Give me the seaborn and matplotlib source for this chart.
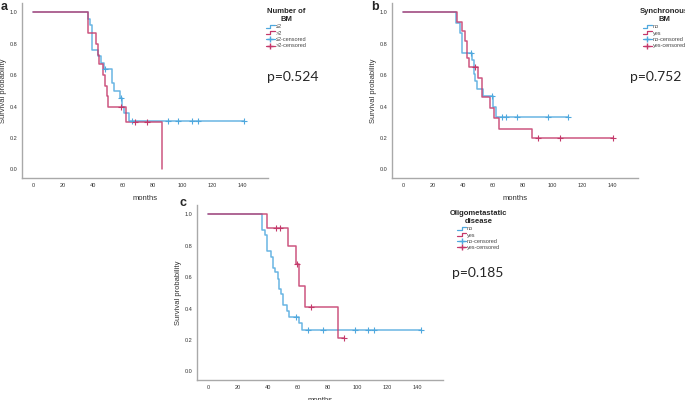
import numpy as np
import pandas as pd
import matplotlib
matplotlib.use("Agg")
import matplotlib.pyplot as plt
from matplotlib.lines import Line2D
from matplotlib.legend_handler import HandlerBase
import seaborn as sns

# ── data ─────────────────────────────────────────────────────────────────────

# panel a: number of BM
a_le2_t = [0, 36.5, 38, 39, 43, 45, 47, 52.5, 54, 58, 59.5, 61, 64]
a_le2_s = [1.0, 0.96, 0.92, 0.76, 0.72, 0.68, 0.64, 0.55, 0.50, 0.455, 0.40, 0.36, 0.305]
a_le2_cens = [48, 58.5, 66, 90, 97, 106, 110, 141]
a_le2_end = 141
a_gt2_t = [0, 36.5, 42, 43, 44.3, 46.6, 48, 49.5, 50, 62, 86.4]
a_gt2_s = [1.0, 0.87, 0.80, 0.73, 0.67, 0.60, 0.53, 0.47, 0.40, 0.30, 0.0]
a_gt2_cens = [59, 68, 76]
a_gt2_end = 86.4

# panel b: synchronous BM
b_no_t = [0, 35.6, 37.7, 39.2, 46, 47.4, 48.3, 49.2, 53.5, 60, 61.8]
b_no_s = [1.0, 0.93, 0.87, 0.74, 0.695, 0.61, 0.56, 0.51, 0.467, 0.40, 0.333]
b_no_cens = [45.6, 59.3, 66.3, 68.4, 75.8, 97, 110]
b_no_end = 110
b_yes_t = [0, 35.9, 39, 41.3, 42.6, 43.8, 50, 53, 58, 60.5, 64, 86]
b_yes_s = [1.0, 0.94, 0.88, 0.82, 0.71, 0.65, 0.585, 0.46, 0.39, 0.33, 0.26, 0.20]
b_yes_cens = [47.8, 90, 105, 140]
b_yes_end = 140

# panel c: oligometastatic disease
c_no_t = [0, 36, 37.9, 39.3, 42, 43.6, 44.7, 46.5, 47.4, 48.6, 49.7, 53, 54.2, 61, 62.6]
c_no_s = [1.0, 0.90, 0.867, 0.764, 0.73, 0.66, 0.63, 0.59, 0.524, 0.49, 0.42, 0.383, 0.347, 0.31, 0.263]
c_no_cens = [59, 66.7, 76.7, 98, 107, 111, 142]
c_no_end = 142
c_yes_t = [0, 39.5, 53.6, 58.5, 60.4, 64.4, 86.9]
c_yes_s = [1.0, 0.916, 0.80, 0.684, 0.547, 0.41, 0.21]
c_yes_cens = [45.2, 48.3, 59.2, 69, 90.8]
c_yes_end = 90.8

x_ticks = [0, 20, 40, 60, 80, 100, 120, 140]
y_ticks = [0.0, 0.2, 0.4, 0.6, 0.8, 1.0]

BLUE = "#4FA8DE"
RED = "#C4386A"
GREY = "#A9A9A9"

sns.set_theme(style="white")
plt.rcParams["font.family"] = ["Liberation Sans", "DejaVu Sans"]


class StepHandler(HandlerBase):
    # little step glyph used by SPSS legends
    def create_artists(self, legend, orig_handle, xdescent, ydescent,
                       width, height, fontsize, trans):
        xs = np.array([0.0, 0.5, 0.5, 1.0]) * width - xdescent
        ys = np.array([0.15, 0.15, 0.85, 0.85]) * height - ydescent
        ln = Line2D(xs, ys, color=orig_handle.get_color(), lw=0.9)
        ln.set_transform(trans)
        return [ln]


def km(ax, t, s, end, cens, color):
    df = pd.DataFrame({"t": list(t) + [end], "s": list(s) + [s[-1]]})
    sns.lineplot(data=df, x="t", y="s", drawstyle="steps-post", color=color,
                 lw=1.1, alpha=0.85, ax=ax, estimator=None, sort=False)
    idx = np.searchsorted(t, cens, side="right") - 1
    cdf = pd.DataFrame({"t": cens, "s": np.asarray(s)[idx]})
    sns.scatterplot(data=cdf, x="t", y="s", marker="+", s=14, color=color,
                    linewidth=0.8, ax=ax, zorder=4)


def setup(ax):
    ax.set_xlim(-7.5, 157)
    ax.set_ylim(-0.055, 1.06)
    ax.set_xticks(x_ticks)
    ax.set_yticks(y_ticks)
    ax.set_yticklabels([f"{v:.1f}" for v in y_ticks])
    ax.tick_params(labelsize=4, colors="#333333", length=0, pad=3.5)
    for sp in ["top", "right"]:
        ax.spines[sp].set_visible(False)
    for sp in ["left", "bottom"]:
        ax.spines[sp].set_color(GREY)
        ax.spines[sp].set_linewidth(1.0)
    ax.set_xlabel("months", fontsize=5.5, color="#333333")
    ax.set_ylabel("Survival probability", fontsize=5.5, color="#333333")
    ax.xaxis.set_label_coords(0.5, -0.095)
    ax.yaxis.set_label_coords(-0.06, 0.5)


def legend(fig, ax, title, names, x, y):
    handles = [Line2D([], [], color=BLUE), Line2D([], [], color=RED),
               Line2D([], [], color=BLUE, marker="+", lw=0.9, ms=4),
               Line2D([], [], color=RED, marker="+", lw=0.9, ms=4)]
    labels = [names[0], names[1], names[0] + "-censored", names[1] + "-censored"]
    hmap = {handles[0]: StepHandler(), handles[1]: StepHandler()}
    lg = ax.legend(handles, labels, title=title, handler_map=hmap,
                   loc="upper left", bbox_to_anchor=(x, y),
                   bbox_transform=fig.transFigure, frameon=False,
                   fontsize=4, title_fontsize=5.5, handlelength=1.6,
                   handletextpad=0.2, labelspacing=0.25, borderpad=0.2)
    lg.get_title().set_fontweight("bold")
    lg.get_title().set_multialignment("center")
    for txt in lg.get_texts():
        txt.set_color("#444444")


fig = plt.figure(figsize=(6.85, 4.0), dpi=100)
ax_a = fig.add_axes([22 / 685, 1 - 178 / 400, 246 / 685, 175 / 400])
ax_b = fig.add_axes([392 / 685, 1 - 178 / 400, 246 / 685, 175 / 400])
ax_c = fig.add_axes([197 / 685, 1 - 380 / 400, 246 / 685, 175 / 400])

km(ax_a, a_le2_t, a_le2_s, a_le2_end, a_le2_cens, BLUE)
km(ax_a, a_gt2_t, a_gt2_s, a_gt2_end, a_gt2_cens, RED)
km(ax_b, b_no_t, b_no_s, b_no_end, b_no_cens, BLUE)
km(ax_b, b_yes_t, b_yes_s, b_yes_end, b_yes_cens, RED)
km(ax_c, c_no_t, c_no_s, c_no_end, c_no_cens, BLUE)
km(ax_c, c_yes_t, c_yes_s, c_yes_end, c_yes_cens, RED)

for ax in (ax_a, ax_b, ax_c):
    setup(ax)

legend(fig, ax_a, "Number of\nBM", ["≤2", ">2"], 262 / 685, 1 - 4 / 400)
legend(fig, ax_b, "Synchronous\nBM", ["no", "yes"], 636 / 685, 1 - 4 / 400)
legend(fig, ax_c, "Oligometastatic\ndisease", ["no", "yes"], 446 / 685, 1 - 206 / 400)

pfont = ["Lato", "DejaVu Sans"]
fig.text(267 / 685, 1 - 77 / 400, "p=0.524", fontsize=10, va="center", family=pfont)
fig.text(630 / 685, 1 - 77 / 400, "p=0.752", fontsize=10, va="center", family=pfont)
fig.text(452 / 685, 1 - 273 / 400, "p=0.185", fontsize=10, va="center", family=pfont)

fig.text(1 / 685, 1 - 7 / 400, "a", fontsize=9, fontweight="bold", va="center")
fig.text(371 / 685, 1 - 7 / 400, "b", fontsize=9, fontweight="bold", va="center")
fig.text(179 / 685, 1 - 203 / 400, "c", fontsize=9, fontweight="bold", va="center")

fig.savefig("out.png", dpi=100)
